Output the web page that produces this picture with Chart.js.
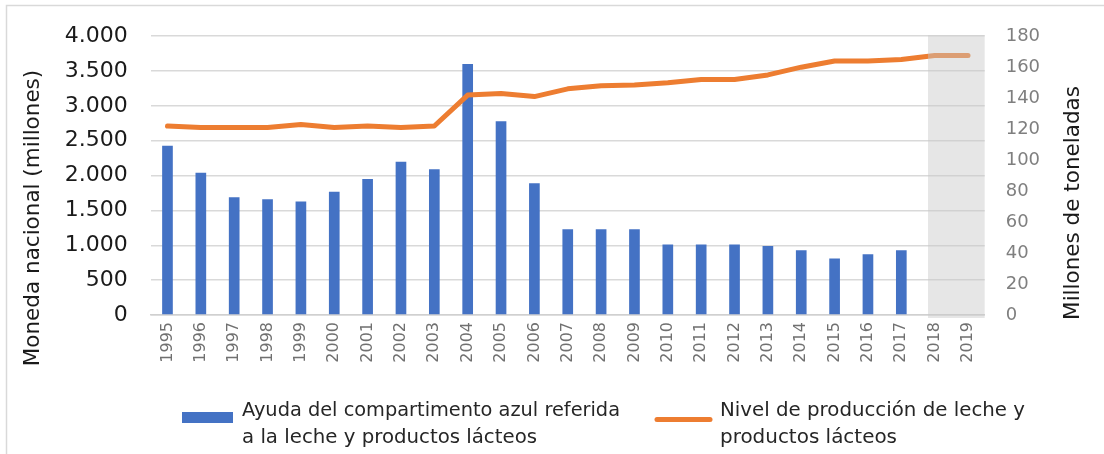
<!DOCTYPE html>
<html>
<head>
<meta charset="utf-8">
<script src="https://cdn.jsdelivr.net/npm/chart.js@4/dist/chart.umd.min.js"></script>
<style>
	html, body { margin: 0; padding: 0; background: #fff; }
	#chart-box { position: relative; width: 1104px; height: 454px; }
</style>
</head>
<body>
<div id="chart-box"><canvas id="chart-canvas"></canvas></div>
<script>
"use strict";

// chart data
var years = ["1995", "1996", "1997", "1998", "1999", "2000", "2001", "2002", "2003", "2004",
	"2005", "2006", "2007", "2008", "2009", "2010", "2011", "2012", "2013", "2014",
	"2015", "2016", "2017", "2018", "2019"];

// Ayuda del compartimento azul (moneda nacional, millones)
var ayudaValues = [2430, 2040, 1690, 1660, 1630, 1770, 1950, 2200, 2090, 3600,
	2780, 1890, 1230, 1230, 1230, 1010, 1010, 1010, 990, 930,
	810, 870, 930, null, null];

// Nivel de produccion (millones de toneladas)
var produccionValues = [122, 121, 121, 121, 123, 121, 122, 121, 122, 142,
	143, 141, 146, 148, 148.5, 150, 152, 152, 155, 160,
	164, 164, 165, 167.5, 167.5];

var leftTicks = [0, 500, 1000, 1500, 2000, 2500, 3000, 3500, 4000];
var rightTicks = [0, 20, 40, 60, 80, 100, 120, 140, 160, 180];
var shadedYears = ["2018", "2019"];

var ayudaLabel = ["Ayuda del compartimento azul referida", "a la leche y productos lácteos"];
var produccionLabel = ["Nivel de producción de leche y", "productos lácteos"];
var leftTitle = "Moneda nacional (millones)";
var rightTitle = "Millones de toneladas";

var BLUE = "#4472c4";
var ORANGE = "#ed7d31";

// format 2500 -> 2.500
function formatThousands(v) {
	return String(v).replace(/\B(?=(\d{3})+(?!\d))/g, ".");
}

// grey band over the forecast years, drawn over the datasets
var shadingPlugin = {
	id: "shading",
	afterDatasetsDraw: function(chart) {
		var ctx = chart.ctx;
		var x = chart.scales.x;
		var area = chart.chartArea;
		var step = x.getPixelForValue(1) - x.getPixelForValue(0);
		var x1 = x.getPixelForValue(years.indexOf(shadedYears[0])) - step * 0.2;
		var x2 = area.right;
		ctx.save();
		ctx.fillStyle = "rgba(200,200,200,0.45)";
		ctx.fillRect(x1, area.top - 1, x2 - x1, area.bottom - area.top + 4);
		ctx.restore();
	}
};

// frame, axis titles and legend (two line labels)
var decorPlugin = {
	id: "decor",
	beforeDraw: function(chart) {
		var ctx = chart.ctx;
		ctx.save();
		ctx.strokeStyle = "#d9d9d9";
		ctx.lineWidth = 1.5;
		ctx.beginPath();
		ctx.moveTo(6.5, 454);
		ctx.lineTo(6.5, 5.5);
		ctx.lineTo(1104, 5.5);
		ctx.stroke();
		ctx.restore();
	},
	afterDraw: function(chart) {
		var ctx = chart.ctx;
		ctx.save();
		// axis titles
		ctx.fillStyle = "#1a1a1a";
		ctx.font = "21.5px 'DejaVu Sans'";
		ctx.textAlign = "center";
		ctx.textBaseline = "middle";
		ctx.save();
		ctx.translate(33, 218);
		ctx.rotate(-Math.PI / 2);
		ctx.fillText(leftTitle, 0, 0);
		ctx.restore();
		ctx.save();
		ctx.translate(1073, 203);
		ctx.rotate(-Math.PI / 2);
		ctx.fillText(rightTitle, 0, 0);
		ctx.restore();

		// legend
		ctx.textAlign = "left";
		ctx.textBaseline = "alphabetic";
		ctx.font = "20px 'DejaVu Sans'";
		ctx.fillStyle = BLUE;
		ctx.fillRect(182, 412, 51, 11);
		ctx.fillStyle = "#262626";
		ctx.fillText(ayudaLabel[0], 242, 416, 378);
		ctx.fillText(ayudaLabel[1], 242, 443, 295);

		ctx.strokeStyle = ORANGE;
		ctx.lineWidth = 5;
		ctx.lineCap = "round";
		ctx.beginPath();
		ctx.moveTo(657, 419.5);
		ctx.lineTo(710, 419.5);
		ctx.stroke();
		ctx.fillText(produccionLabel[0], 720, 416, 305);
		ctx.fillText(produccionLabel[1], 720, 443, 177);
		ctx.restore();
	}
};

var ctx = document.getElementById("chart-canvas").getContext("2d");
var mainChart = new Chart(ctx, {
	type: "bar",
	data: {
		labels: years,
		datasets: [{
			type: "bar",
			label: ayudaLabel.join(" "),
			data: ayudaValues,
			backgroundColor: BLUE,
			yAxisID: "y",
			barPercentage: 0.32,
			categoryPercentage: 1,
			order: 1
		}, {
			type: "line",
			label: produccionLabel.join(" "),
			data: produccionValues,
			borderColor: ORANGE,
			borderWidth: 5,
			borderCapStyle: "round",
			borderJoinStyle: "round",
			pointRadius: 0,
			tension: 0,
			yAxisID: "y1",
			order: 0
		}]
	},
	options: {
		responsive: true,
		maintainAspectRatio: false,
		animation: false,
		layout: {
			padding: { top: 36, left: 0, right: 0, bottom: 0 }
		},
		plugins: {
			legend: { display: false },
			tooltip: { enabled: false }
		},
		scales: {
			x: {
				grid: { display: false, drawTicks: false },
				border: { display: true, color: "#d0d0d0", width: 1.5 },
				ticks: {
					minRotation: 90,
					maxRotation: 90,
					autoSkip: false,
					padding: 7,
					color: "#707070",
					font: { family: "'DejaVu Sans'", size: 16 }
				},
				afterFit: function(scale) {
					scale.height = 139;
				}
			},
			y: {
				position: "left",
				min: 0,
				max: leftTicks[leftTicks.length - 1],
				afterBuildTicks: function(scale) {
					scale.ticks = leftTicks.map(function(v) { return { value: v }; });
				},
				grid: { color: "#d9d9d9", lineWidth: 1.5, drawTicks: false },
				border: { display: false },
				ticks: {
					padding: 23,
					color: "#1a1a1a",
					font: { family: "'DejaVu Sans'", size: 22 },
					callback: function(v) { return formatThousands(v); }
				},
				afterFit: function(scale) {
					scale.width = 150.8;
				}
			},
			y1: {
				position: "right",
				min: 0,
				max: rightTicks[rightTicks.length - 1],
				afterBuildTicks: function(scale) {
					scale.ticks = rightTicks.map(function(v) { return { value: v }; });
				},
				grid: { display: false, drawTicks: false },
				border: { display: false },
				ticks: {
					padding: 21,
					color: "#7f7f7f",
					font: { family: "'DejaVu Sans'", size: 18 }
				},
				afterFit: function(scale) {
					scale.width = 119.3;
				}
			}
		}
	},
	plugins: [shadingPlugin, decorPlugin]
});
</script>
</body>
</html>
